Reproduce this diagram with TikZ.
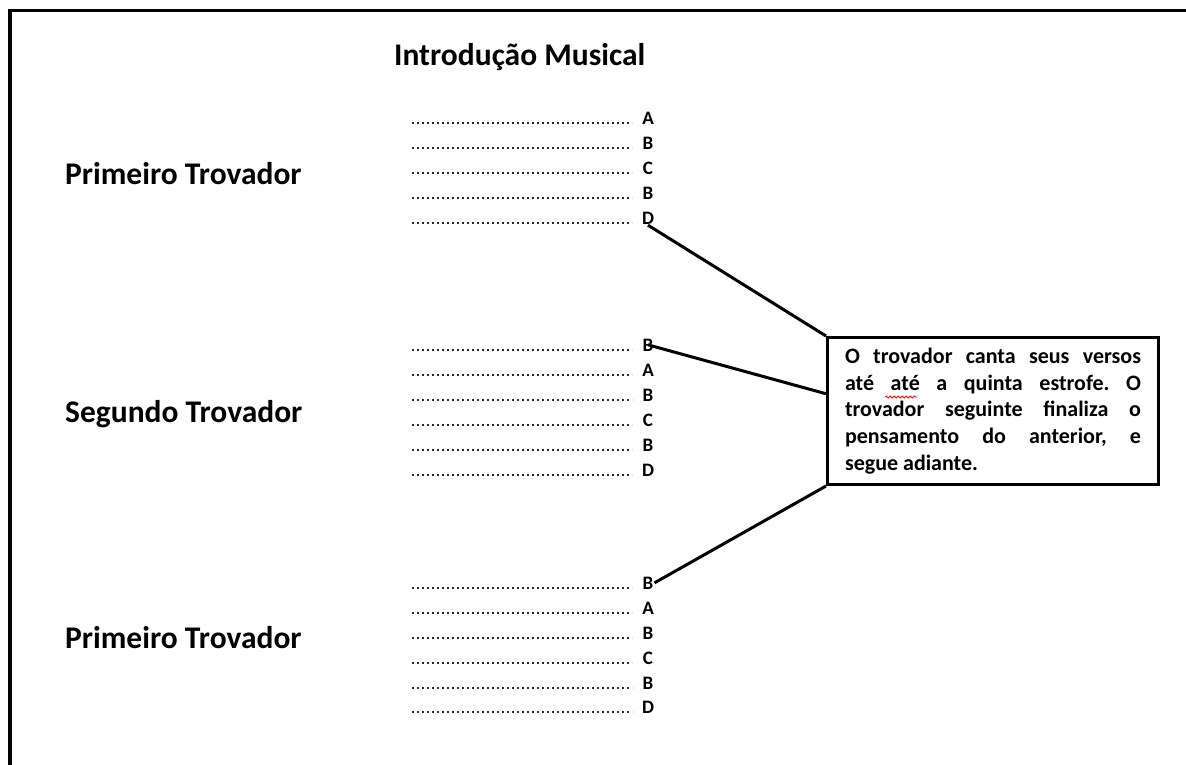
\documentclass[tikz,border=0pt]{standalone}
\usepackage{fontspec}
\setmainfont{Carlito}
\usetikzlibrary{calc,decorations.pathmorphing}

\begin{document}
\begin{tikzpicture}[x=1pt,y=-1pt,
	heading/.style={anchor=base west,inner sep=0pt,font=\fontsize{31.5}{37}\selectfont\bfseries},
	letter/.style={anchor=base,inner sep=1pt,font=\fontsize{19}{23}\selectfont\bfseries},
	dots/.style={line width=1.6pt,dash pattern=on 1.6pt off 3.4pt,color=black!85},
	link/.style={line width=3pt},
	note/.style={draw,line width=3pt,anchor=north west,text width=296pt,minimum width=331pt,minimum height=147pt,align=justify,font=\fontsize{22}{26.7}\selectfont\bfseries\frenchspacing}]
			%%%%% START %%%%%
			
			\useasboundingbox (0, 0) rectangle (1186, 764);
			\draw[line width=3.5pt] (10, 800) -- (10, 10.5) -- (1200, 10.5);
			
			\node[heading] (title) at (394, 65) {Introdução Musical};
			
			\node[heading] (first) at (65, 184) {Primeiro Trovador};
			\node[heading] (second) at (65, 422) {Segundo Trovador};
			\node[heading] (third) at (65, 648) {Primeiro Trovador};
			
			\draw[dots] (412, 123) -- (632, 123);
			\node[letter] (r11) at (648, 124) {A};
			\draw[dots] (412, 148) -- (632, 148);
			\node[letter] (r12) at (648, 149) {B};
			\draw[dots] (412, 173) -- (632, 173);
			\node[letter] (r13) at (648, 174) {C};
			\draw[dots] (412, 198) -- (632, 198);
			\node[letter] (r14) at (648, 199) {B};
			\draw[dots] (412, 223) -- (632, 223);
			\node[letter] (r15) at (648, 224) {D};
			
			\draw[dots] (412, 350) -- (632, 350);
			\node[letter] (r21) at (648, 351) {B};
			\draw[dots] (412, 375) -- (632, 375);
			\node[letter] (r22) at (648, 376) {A};
			\draw[dots] (412, 400) -- (632, 400);
			\node[letter] (r23) at (648, 401) {B};
			\draw[dots] (412, 425) -- (632, 425);
			\node[letter] (r24) at (648, 426) {C};
			\draw[dots] (412, 450) -- (632, 450);
			\node[letter] (r25) at (648, 451) {B};
			\draw[dots] (412, 475) -- (632, 475);
			\node[letter] (r26) at (648, 476) {D};
			
			\draw[dots] (412, 588) -- (632, 588);
			\node[letter] (r31) at (648, 589) {B};
			\draw[dots] (412, 613) -- (632, 613);
			\node[letter] (r32) at (648, 614) {A};
			\draw[dots] (412, 638) -- (632, 638);
			\node[letter] (r33) at (648, 639) {B};
			\draw[dots] (412, 663) -- (632, 663);
			\node[letter] (r34) at (648, 664) {C};
			\draw[dots] (412, 688) -- (632, 688);
			\node[letter] (r35) at (648, 689) {B};
			\draw[dots] (412, 712) -- (632, 712);
			\node[letter] (r36) at (648, 713) {D};
			
			\node[note] (box) at (826, 336) {O trovador canta seus versos\linebreak
				até até a quinta estrofe. O\linebreak
				trovador seguinte finaliza o\linebreak
				pensamento do anterior, e\linebreak
				segue adiante.};
			\draw[red, line width=0.8pt, decorate, decoration={snake, segment length=4pt, amplitude=1pt}] (885, 397) -- (917, 397);
			
			\draw[link] (r15.south) -- (box.north west);
			\draw[link] (r21.center) -- ($(box.north west)!0.385!(box.south west)$);
			\draw[link] (box.south west) -- (r31.east);
			
			%%%%% END %%%%%
\end{tikzpicture}
\end{document}
